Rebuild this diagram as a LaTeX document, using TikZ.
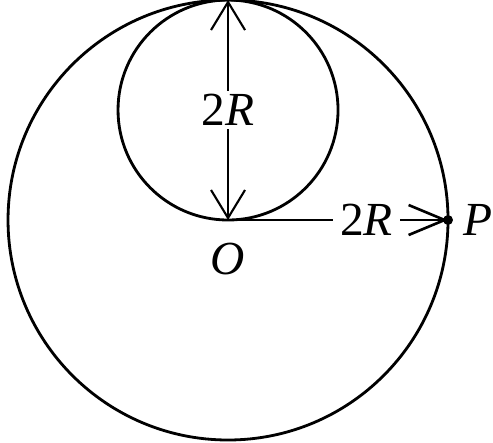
\documentclass[tikz,border=0pt]{standalone}
\usepackage{fontspec}
\setmainfont{Liberation Serif}
\usepackage{tikz}
\usetikzlibrary{arrows.meta}
\usetikzlibrary{positioning}

\tikzset{
    rim/.style={line width=0.8pt},
    dim/.style={line width=0.35pt},
    lbl/.style={font=\fontsize{13.5}{15}\selectfont},
    barb/.tip={Straight Barb[length=2.8mm,width=3.4mm,line width=0.6pt]},
    longbarb/.tip={Straight Barb[length=3.6mm,width=3mm,line width=0.75pt]}
}

\begin{document}
\begin{tikzpicture}[x=1.1cm,y=1.1cm]
        \useasboundingbox (-2.073,-2.027) rectangle (2.409,2.0);

        \coordinate (O) at (0,0);
        \coordinate (T) at (0,2);
        \coordinate (P) at (2,0);

        \draw[rim] (O) circle (2);
        \draw[rim] (0,1) circle (1);

        % vertical diameter of the small circle
        \draw[dim,barb-barb] (T) -- node[lbl,fill=white,inner sep=1pt] (d1) {2\textit{R}} (O);
        % radius of the large circle
        \draw[dim,-longbarb] (O) -- node[lbl,pos=0.63,fill=white,inner sep=2pt] (d2) {2\textit{R}} (P);

        \fill (P) circle (0.045);
        \node[lbl,below=3pt of O] (o) {\textit{O}};
        \node[lbl,right=1pt of P] (p) {\textit{P}};
    \end{tikzpicture}
\end{document}
